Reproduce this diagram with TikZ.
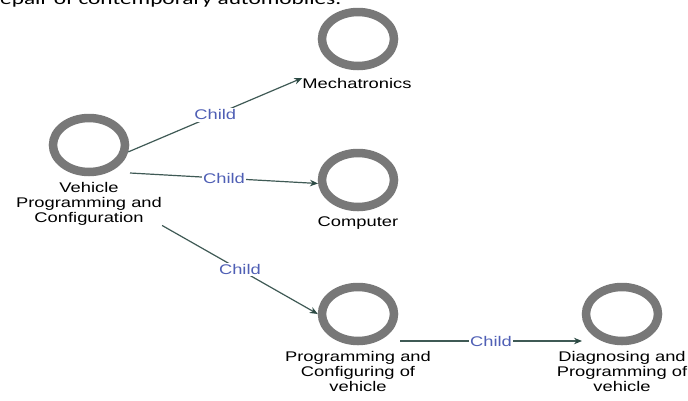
\documentclass[tikz,border=0pt]{standalone}
\usepackage{fontspec}
\setmainfont{Liberation Sans}
\newfontfamily\lblfont[FakeStretch=1.31]{Liberation Sans}
\newfontfamily\topfont[FakeStretch=1.37]{Carlito}
\usetikzlibrary{shapes.geometric,arrows.meta}
\definecolor{ringgray}{HTML}{787878}
\definecolor{edgecol}{HTML}{3F5A55}
\definecolor{tipcol}{HTML}{2C4A44}
\definecolor{childblue}{HTML}{4F5FB5}
\begin{document}
\begin{tikzpicture}[x=1pt,y=-1pt,
  ring/.style={ellipse, draw=ringgray, line width=8.5pt, minimum width=72pt, minimum height=54pt, inner sep=0pt},
  lbl/.style={font=\lblfont\fontsize{14}{15}\selectfont, align=center, inner sep=0pt, anchor=north, text=black},
  child/.style={font=\lblfont\fontsize{14}{15}\selectfont, text=childblue, fill=white, inner sep=1.5pt},
  link/.style={draw=edgecol, line width=1.2pt, -{Stealth[length=8pt,width=6.5pt,color=tipcol]}}]
\clip (0,0) rectangle (688,400);
\fill[white] (0,0) rectangle (688,400);
\node[anchor=base west, inner sep=0pt, font=\topfont\fontsize{17}{20}\selectfont] (toptext) at (0,4.5) {epair of contemporary automobiles.};
\node[ring] (c1) at (89,145) {};
\node[lbl] (l1) at (89,182) {Vehicle\\Programming and\\Configuration};
\node[ring] (c2) at (358,39) {};
\node[lbl] (l2) at (357,78) {Mechatronics};
\node[ring] (c3) at (358,180) {};
\node[lbl] (l3) at (358,217) {Computer};
\node[ring] (c4) at (358,314) {};
\node[lbl] (l4) at (358,351) {Programming and\\Configuring of\\vehicle};
\node[ring] (c5) at (622,314) {};
\node[lbl] (l5) at (622,351) {Diagnosing and\\Programming of\\vehicle};
\coordinate (s2) at (130,173);
\coordinate (s4) at (400,341);
\coordinate (t4) at (582,341);
\draw[link] (c1.-10) -- node[child,pos=.5] (k1) {Child} (l2.north west);
\draw[link] (s2) -- node[child,pos=.5] (k2) {Child} (c3.185);
\draw[link] (l1.south east) -- node[child,pos=.5] (k3) {Child} (c4.west);
\draw[link] (s4) -- node[child,pos=.5] (k4) {Child} (t4);
\end{tikzpicture}
\end{document}
